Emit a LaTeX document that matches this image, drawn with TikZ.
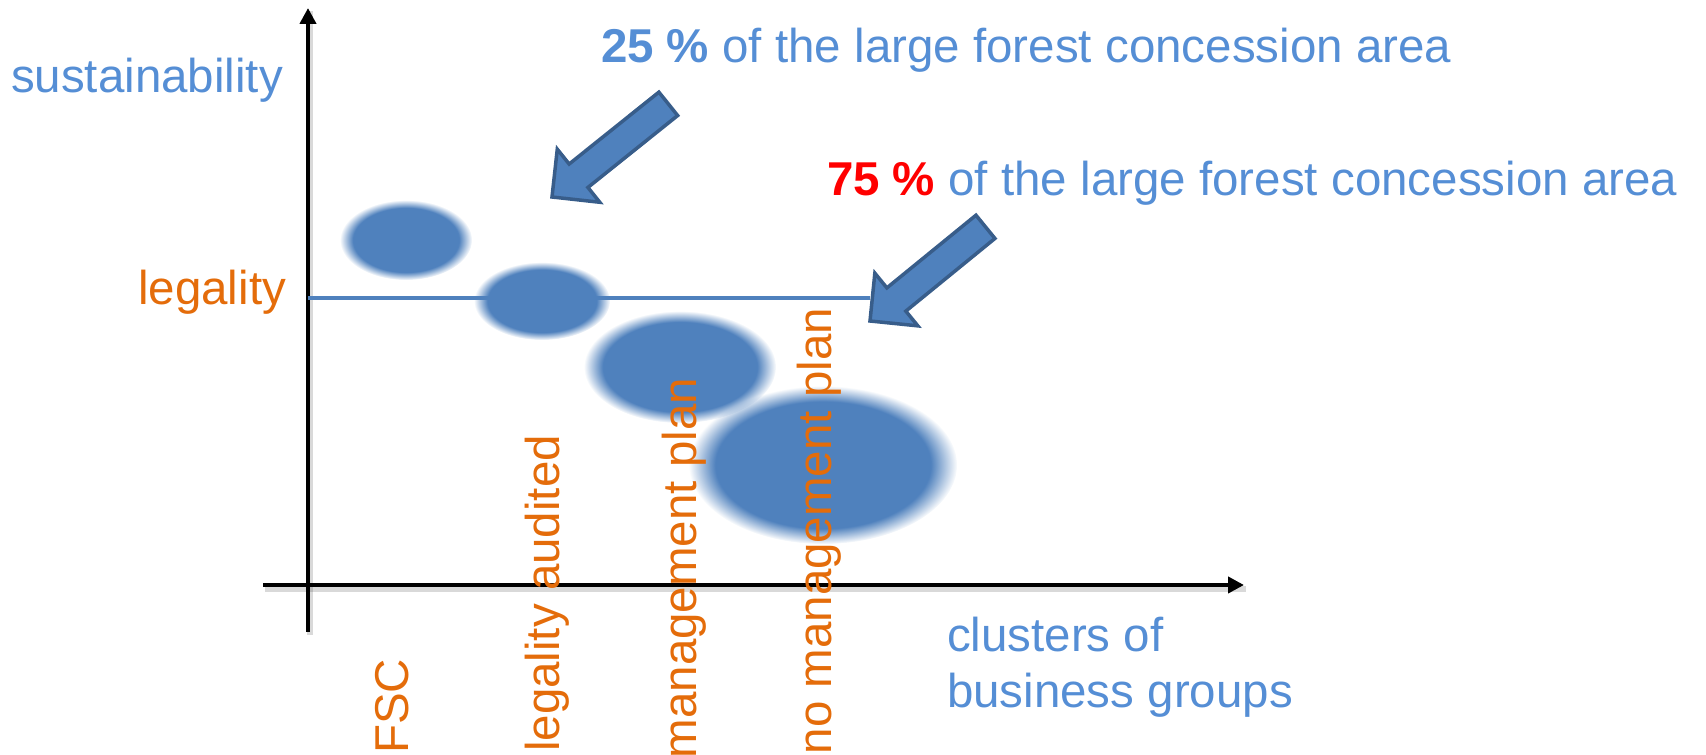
\documentclass[tikz,border=0pt]{standalone}
\usepackage{fontspec}
\setmainfont{Liberation Sans}
\usetikzlibrary{arrows.meta,fadings}
\definecolor{ellblue}{HTML}{4F81BD}
\definecolor{arrborder}{HTML}{385D8A}
\definecolor{txtblue}{HTML}{558ED5}
\definecolor{txtorange}{HTML}{E46C0A}
\definecolor{txtred}{HTML}{FF0000}
\begin{document}
\begin{tikzpicture}[x=1pt,y=1pt,
  lbl/.style={inner sep=0pt, outer sep=0pt, font=\fontsize{47.5}{57}\selectfont},
  bluetxt/.style={lbl, text=txtblue},
  orangetxt/.style={lbl, text=txtorange},
  vlabel/.style={orangetxt, rotate=90, anchor=base east},
  blob/.style={fill=ellblue, path fading=circle with fuzzy edge 20 percent},
  axisline/.style={line width=4.5pt, black, -{Triangle[length=16pt,width=16pt]}},
  axisshadow/.style={line width=6pt, black, opacity=0.15},
  legline/.style={line width=4.5pt, ellblue},
  blockarrowsty/.style={fill=ellblue, draw=arrborder, line width=3.5pt, line join=miter},
  pics/blockarrow/.style={code={
    \draw[blockarrowsty] (0,0) -- (34,34) -- (34,15) -- (149,15) -- (149,-15) -- (34,-15) -- (34,-34) -- cycle;}}
]
\useasboundingbox (0,0) rectangle (1706,755);
\clip (0,0) rectangle (1706,755);

% fuzzy ellipses
\path[blob] (406,515) ellipse [x radius=66, y radius=40];
\path[blob] (542,454) ellipse [x radius=68, y radius=39];
\path[blob] (680,388) ellipse [x radius=96, y radius=56];
\path[blob] (823,290) ellipse [x radius=134, y radius=79];

% axes
\coordinate (yb) at (308,123);
\coordinate (yt) at (308,747);
\coordinate (xl) at (263,170);
\coordinate (xr) at (1244,170);
\draw[axisshadow] ([shift={(2,-3)}]yb) -- ([shift={(2,-3)}]yt);
\draw[axisshadow] ([shift={(2,-4)}]xl) -- ([shift={(2,-4)}]xr);
\draw[axisline] (yb) -- (yt);
\draw[axisline] (xl) -- (xr);

% legality line
\coordinate (ll) at (308,457);
\coordinate (lr) at (870,457);
\draw[legline] (ll) -- (lr);

% block arrows
\pic[rotate=38.7] at (552,558) {blockarrow};
\pic[rotate=39.2] at (870,434) {blockarrow};

% texts
\node[bluetxt, anchor=base west] (sus) at (11,662) {sustainability};
\node[orangetxt, anchor=base east] (leg) at (286,450) {legality};
\node[bluetxt, anchor=base west] (t25) at (601,692) {\textbf{25 \%} of the large forest concession area};
\node[bluetxt, anchor=base west] (t75) at (827,559) {\textcolor{txtred}{\textbf{75 \%}} of the large forest concession area};
\node[bluetxt, anchor=base west] (clu) at (947,103) {clusters of};
\node[bluetxt, anchor=base west] (bus) at (947,47) {business groups};

\node[vlabel] (fsc) at (408,96) {FSC};
\node[vlabel] (lga) at (559,320) {legality audited};
\node[vlabel] (mp) at (696,377) {management plan};
\node[vlabel] (nmp) at (831,447) {no management plan};
\end{tikzpicture}
\end{document}
